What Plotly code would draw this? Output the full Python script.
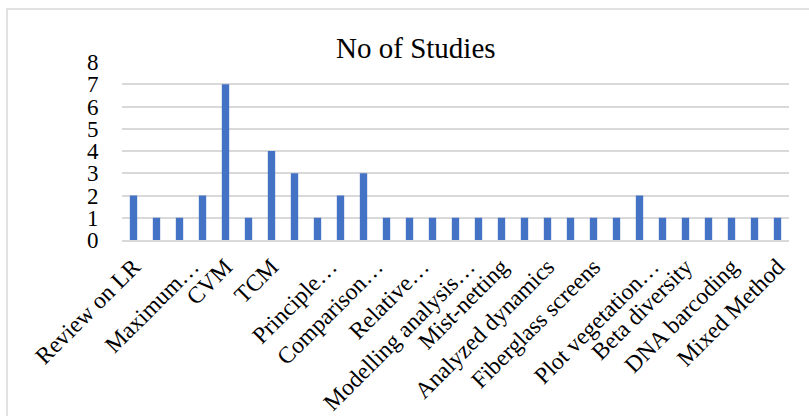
import plotly.graph_objects as go

# Data
tick_labels = ["Review on LR", "Maximum…", "CVM", "TCM", "Principle…", "Comparison…",
               "Relative…", "Modelling analysis…", "Mist-netting", "Analyzed dynamics",
               "Fiberglass screens", "Plot vegetation…", "Beta diversity", "DNA barcoding",
               "Mixed Method"]
values = [2, 1, 1, 2, 7, 1, 4, 3, 1, 2, 3, 1, 1, 1, 1, 1, 1, 1, 1, 1, 1, 1, 2, 1, 1, 1, 1, 1, 1]
title_text = "No of Studies"

positions = list(range(len(values)))
label_positions = positions[::2]
# truncated (Excel-clipped) labels sit slightly further right, as in the original rendering
label_tickvals = [p + (0.55 if t.endswith("…") else 0.0) for p, t in zip(label_positions, tick_labels)]

FONT = "Liberation Serif, Times New Roman, serif"
GRID = "#d9d9d9"

fig = go.Figure(go.Bar(x=positions, y=values, marker=dict(color="#4472C4", line=dict(width=0))))

fig.update_layout(
    width=809, height=416,
    margin=dict(l=122, r=20, t=62, b=176, autoexpand=False),
    paper_bgcolor="white", plot_bgcolor="white",
    bargap=0.68,
    showlegend=False,
    font=dict(family=FONT, color="black"),
    title=dict(text=title_text, x=0.514, xanchor="center", y=0.885, yanchor="middle",
               font=dict(family=FONT, size=29, color="black")),
)
fig.update_xaxes(
    range=[-0.5, len(values) - 0.5], automargin=False,
    tickmode="array", tickvals=label_tickvals, ticktext=tick_labels,
    tickangle=-45, tickfont=dict(family=FONT, size=23.5, color="black"),
    showgrid=False, showline=True, linecolor=GRID, linewidth=1.5,
    ticks="outside", ticklen=2, tickcolor="rgba(0,0,0,0)",
    zeroline=False,
)
fig.update_yaxes(
    range=[0, 8], dtick=1, showgrid=True, gridcolor=GRID, gridwidth=1.5,
    zeroline=False, showline=False, automargin=False,
    tickfont=dict(family=FONT, size=23, color="black"),
    ticks="outside", ticklen=18, tickcolor="rgba(0,0,0,0)",
)
# outer chart border (light grey frame)
fig.add_shape(type="rect", xref="paper", yref="paper",
              x0=(7 - 122) / 667, x1=1.2, y0=-1.5, y1=(240 - 9) / 178,
              line=dict(color=GRID, width=1.5), fillcolor="rgba(0,0,0,0)", layer="below")

fig.write_html("out.html", config={"displayModeBar": False},
               post_script="document.body.style.margin='0';")
